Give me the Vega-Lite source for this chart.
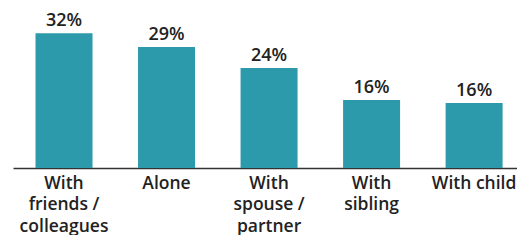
{
  "$schema": "https://vega.github.io/schema/vega-lite/v6.json",
  "width": 504,
  "height": 168,
  "padding": {"left": 13, "top": 0, "right": 0, "bottom": 0},
  "background": "white",
  "config": {"view": {"stroke": null}, "font": "Open Sans"},
  "data": {
    "values": [
      {"group": "With|friends /|colleagues", "share": 32.1, "label": "32%"},
      {"group": "Alone", "share": 28.8, "label": "29%"},
      {"group": "With|spouse /|partner", "share": 23.8, "label": "24%"},
      {"group": "With|sibling", "share": 16.2, "label": "16%"},
      {"group": "With child", "share": 15.5, "label": "16%"}
    ]
  },
  "encoding": {
    "x": {
      "field": "group",
      "type": "nominal",
      "sort": null,
      "scale": {"paddingInner": 0.444, "paddingOuter": 0.18, "align": 0.61},
      "axis": {
        "title": null,
        "labelAngle": 0,
        "ticks": false,
        "labelPadding": 6,
        "labelExpr": "split(datum.value, '|')",
        "labelFont": "Open Sans",
        "labelFontSize": 17.5,
        "labelFontWeight": 600,
        "labelColor": "#222222",
        "labelLineHeight": 21.5,
        "labelBaseline": "top",
        "domainColor": "#333333",
        "domainWidth": 1.5
      }
    },
    "y": {
      "field": "share",
      "type": "quantitative",
      "scale": {"domain": [0, 40]},
      "axis": null
    }
  },
  "layer": [
    {"mark": {"type": "bar", "color": "#2c9aab"}},
    {
      "mark": {
        "type": "text",
        "baseline": "alphabetic",
        "dy": -7,
        "font": "Open Sans",
        "fontSize": 18,
        "fontWeight": 600,
        "color": "#222222"
      },
      "encoding": {"text": {"field": "label"}}
    }
  ]
}
